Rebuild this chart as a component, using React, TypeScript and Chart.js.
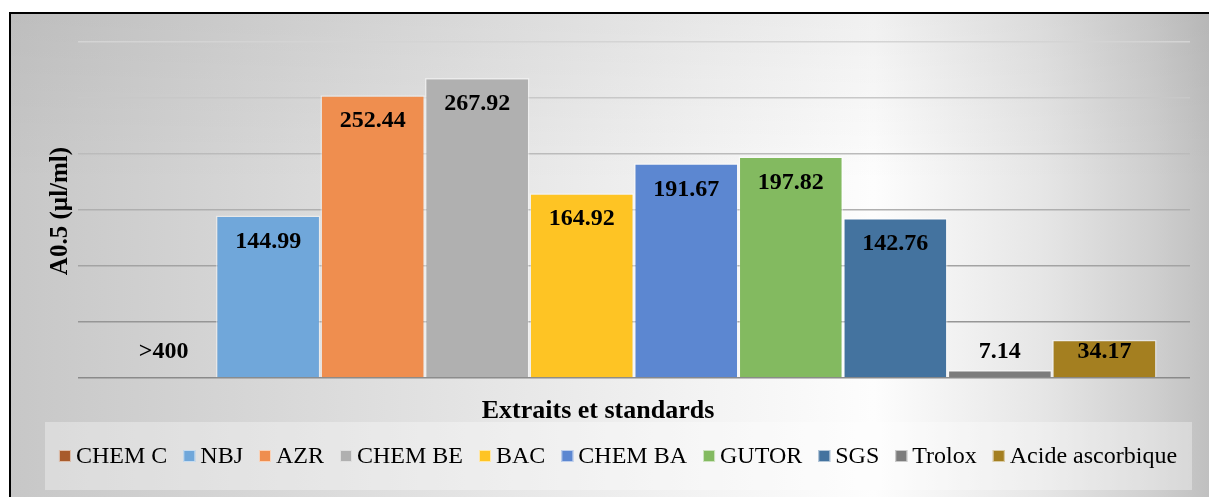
import { useEffect, useRef } from "react";
import { Chart, registerables } from "chart.js";

Chart.register(...registerables);

// Series (one bar per extract / standard)
const seriesNames = [
  "CHEM C",
  "NBJ",
  "AZR",
  "CHEM BE",
  "BAC",
  "CHEM BA",
  "GUTOR",
  "SGS",
  "Trolox",
  "Acide ascorbique",
];
// CHEM C is above the measured range, so it has no bar, only its label
const seriesValues: (number | null)[] = [
  null, 144.99, 252.44, 267.92, 164.92, 191.67, 197.82, 142.76, 7.14, 34.17,
];
const valueLabels = [
  ">400", "144.99", "252.44", "267.92", "164.92", "191.67", "197.82", "142.76", "7.14", "34.17",
];
const seriesColors = [
  "#a85b2c",
  "#70a7da",
  "#ef8e4f",
  "#b0b0b0",
  "#fec424",
  "#5c87d1",
  "#83ba60",
  "#44739f",
  "#7c7c7c",
  "#a47f20",
];
const categoryLabels = [""];
const yMin = 0;
const yMax = 300;
const yStep = 50;
const yTitle = "A0.5 (µl/ml)";
const xTitle = "Extraits et standards";

const SERIF = "'Liberation Serif', 'Times New Roman', serif";

const backgroundPlugin = {
  id: "panelBackground",
  beforeDraw(chart: Chart) {
    const ctx = chart.ctx;
    const w = chart.width;
    const h = chart.height;
    ctx.save();
    ctx.fillStyle = "#ffffff";
    ctx.fillRect(0, 0, w, h);
    const g = ctx.createLinearGradient(10, 0, w, 0);
    g.addColorStop(0, "#c7c7c7");
    g.addColorStop(0.25, "#dadada");
    g.addColorStop(0.55, "#f1f1f1");
    g.addColorStop(0.72, "#fdfdfd");
    g.addColorStop(0.86, "#e6e6e6");
    g.addColorStop(0.95, "#d0d0d0");
    g.addColorStop(1, "#c0c0c0");
    ctx.fillStyle = g;
    ctx.fillRect(10, 12, w - 10, h - 12);
    const v = ctx.createLinearGradient(0, 12, 0, h);
    v.addColorStop(0, "rgba(0,0,0,0.05)");
    v.addColorStop(0.35, "rgba(0,0,0,0)");
    v.addColorStop(1, "rgba(0,0,0,0)");
    ctx.fillStyle = v;
    ctx.fillRect(10, 12, w - 10, h - 12);
    ctx.restore();
  },
  afterDraw(chart: Chart) {
    const ctx = chart.ctx;
    ctx.save();
    ctx.fillStyle = "#000000";
    ctx.fillRect(9, 12, chart.width - 9, 2);
    ctx.fillRect(9, 12, 2, chart.height - 12);
    ctx.restore();
  },
};

const valueLabelPlugin = {
  id: "valueLabels",
  afterDatasetsDraw(chart: Chart) {
    const ctx = chart.ctx;
    const yScale = chart.scales.y;
    const base = yScale.getPixelForValue(0);
    ctx.save();
    ctx.font = `bold 24px ${SERIF}`;
    ctx.fillStyle = "#000000";
    ctx.textAlign = "center";
    ctx.textBaseline = "middle";
    chart.data.datasets.forEach((ds, i) => {
      const el: any = chart.getDatasetMeta(i).data[0];
      if (!el) return;
      const v = ds.data[0] as number | null;
      const top = v == null ? base : yScale.getPixelForValue(v);
      const y = Math.min(top + 26, base - 26);
      ctx.fillText(valueLabels[i], el.x, y);
    });
    ctx.restore();
  },
};

const titlesPlugin = {
  id: "axisTitles",
  afterDraw(chart: Chart) {
    const ctx = chart.ctx;
    ctx.save();
    ctx.fillStyle = "#000000";
    ctx.textAlign = "center";
    ctx.textBaseline = "middle";
    ctx.font = `bold 26px ${SERIF}`;
    ctx.fillText(xTitle, 598, 411);
    ctx.font = `bold 25px ${SERIF}`;
    ctx.translate(61, 211);
    ctx.rotate(-Math.PI / 2);
    ctx.fillText(yTitle, 0, 0);
    ctx.restore();
  },
};

const legendPlugin = {
  id: "bottomLegend",
  afterDraw(chart: Chart) {
    const ctx = chart.ctx;
    ctx.save();
    ctx.fillStyle = "rgba(255,255,255,0.33)";
    ctx.fillRect(45, 422, 1147, 68);
    ctx.font = `24px ${SERIF}`;
    ctx.textBaseline = "middle";
    ctx.textAlign = "left";
    const box = 12;
    const gap = 5;
    const itemGap = 16;
    const widths = chart.data.datasets.map(
      (ds) => box + gap + ctx.measureText(String(ds.label)).width
    );
    const total = widths.reduce((a, b) => a + b, 0) + itemGap * (widths.length - 1);
    let x = 618 - total / 2;
    const cy = 456;
    chart.data.datasets.forEach((ds, i) => {
      ctx.fillStyle = String(ds.backgroundColor);
      ctx.fillRect(x, cy - box / 2, box, box);
      ctx.strokeStyle = "rgba(255,255,255,0.6)";
      ctx.lineWidth = 1;
      ctx.strokeRect(x + 0.5, cy - box / 2 + 0.5, box - 1, box - 1);
      ctx.fillStyle = "#000000";
      ctx.fillText(String(ds.label), x + box + gap, cy + 1);
      x += widths[i] + itemGap;
    });
    ctx.restore();
  },
};

export default function App() {
  const canvasRef = useRef<HTMLCanvasElement | null>(null);

  useEffect(() => {
    if (!canvasRef.current) return;
    const chart = new Chart(canvasRef.current, {
      type: "bar",
      data: {
        labels: categoryLabels,
        datasets: seriesNames.map((name, i) => ({
          label: name,
          data: [seriesValues[i]],
          backgroundColor: seriesColors[i],
          borderColor: "rgba(255,255,255,0.45)",
          borderWidth: 1.5,
          categoryPercentage: 0.94,
          barPercentage: 1,
        })),
      },
      options: {
        responsive: false,
        animation: false,
        devicePixelRatio: 1,
        layout: { padding: { left: 78, right: 19, top: 42, bottom: 119 } },
        plugins: {
          legend: { display: false },
          tooltip: { enabled: false },
          title: { display: false },
        },
        scales: {
          x: {
            display: false,
          },
          y: {
            min: yMin,
            max: yMax,
            ticks: { stepSize: yStep, display: false },
            border: { display: false },
            grid: {
              drawTicks: false,
              lineWidth: 1.5,
              color: (c: any) => {
                const t = (c.tick?.value ?? 0) / yMax;
                const g = Math.round(138 + t * (212 - 138));
                return `rgb(${g},${g},${g})`;
              },
            },
          },
        },
      },
      plugins: [backgroundPlugin, valueLabelPlugin, titlesPlugin, legendPlugin],
    });
    return () => chart.destroy();
  }, []);

  return (
    <div style={{ position: "absolute", left: 0, top: 0, width: 1209, height: 497 }}>
      <canvas
        ref={canvasRef}
        width={1209}
        height={497}
        style={{ display: "block", width: 1209, height: 497 }}
      />
    </div>
  );
}
